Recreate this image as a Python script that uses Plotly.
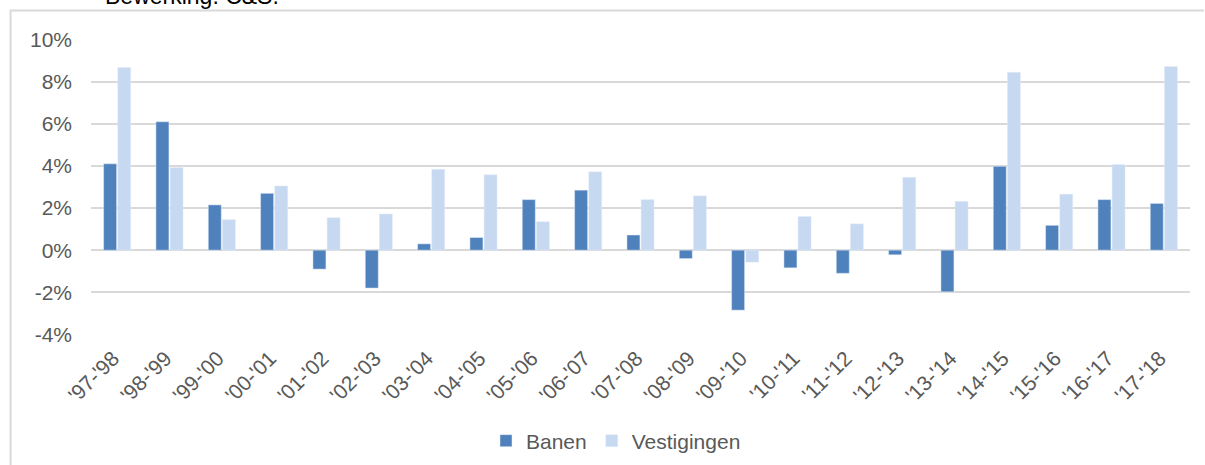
import plotly.graph_objects as go

categories = ["'97-'98", "'98-'99", "'99-'00", "'00-'01", "'01-'02", "'02-'03", "'03-'04",
              "'04-'05", "'05-'06", "'06-'07", "'07-'08", "'08-'09", "'09-'10", "'10-'11",
              "'11-'12", "'12-'13", "'13-'14", "'14-'15", "'15-'16", "'16-'17", "'17-'18"]
banen = [4.1, 6.1, 2.15, 2.7, -0.9, -1.8, 0.3, 0.6, 2.4, 2.85, 0.72, -0.4, -2.85, -0.84,
         -1.1, -0.22, -1.98, 3.98, 1.18, 2.4, 2.22]
vestigingen = [8.68, 3.93, 1.45, 3.05, 1.54, 1.72, 3.84, 3.58, 1.35, 3.72, 2.4, 2.58, -0.57,
               1.6, 1.25, 3.46, 2.32, 8.45, 2.66, 4.07, 8.72]
y_ticks = [-4, -2, 0, 2, 4, 6, 8, 10]
y_tick_labels = ["-4%", "-2%", "0%", "2%", "4%", "6%", "8%", "10%"]

W, H = 1205, 465
L, R, T, B = 91, 15, 39, 130
pw, ph = W - L - R, H - T - B


def px_x(p):
    return (p - L) / pw


def px_y(p):
    return (H - B - p) / ph


FONT = "Liberation Sans, Arial, sans-serif"
GREY = "#595959"
GRID = "#D9D9D9"

frame_path = "M {:.4f},{:.4f} L {:.4f},{:.4f} L {:.4f},{:.4f}".format(
    px_x(10.5), px_y(470), px_x(10.5), px_y(10.5), px_x(1204), px_y(10.5))

fig = go.Figure()
fig.add_trace(go.Bar(x=categories, y=banen, name="Banen", marker_color="#4F81BD"))
fig.add_trace(go.Bar(x=categories, y=vestigingen, name="Vestigingen", marker_color="#C6D9F1"))

fig.update_layout(
    width=W, height=H,
    margin=dict(l=L, r=R, t=T, b=B, pad=0, autoexpand=False),
    paper_bgcolor="white", plot_bgcolor="white",
    barmode="group", bargap=0.46, bargroupgap=0.08,
    font=dict(family=FONT, size=20, color=GREY),
    showlegend=True,
    legend=dict(orientation="h", x=px_x(616), xanchor="center", y=px_y(441), yanchor="middle",
                font=dict(size=21, color=GREY), itemwidth=30, traceorder="normal"),
    xaxis=dict(tickangle=-45, showgrid=False, zeroline=False, showline=False, ticks="",
               automargin=False, ticklabelstandoff=6, ticklabelshift=-4,
               tickfont=dict(size=21, color=GREY)),
    yaxis=dict(range=[-4.03, 10.03], tickvals=y_ticks, ticktext=y_tick_labels,
               showgrid=True, gridcolor=GRID, gridwidth=1.5,
               zeroline=True, zerolinecolor=GRID, zerolinewidth=1.5,
               showline=False, ticks="", ticklabelstandoff=18, automargin=False,
               tickfont=dict(size=21, color=GREY)),
    shapes=[
        dict(type="path", xref="paper", yref="paper", path=frame_path,
             line=dict(color=GRID, width=2)),
    ],
    annotations=[
        dict(text="Bewerking: C&S.", xref="paper", yref="paper", x=px_x(103), y=px_y(-4.5),
             xanchor="left", yanchor="middle", showarrow=False,
             font=dict(family=FONT, size=23, color="#000000")),
    ],
)

fig.write_html("out.html", config={"displayModeBar": False},
               post_script="document.documentElement.style.overflow='hidden';"
                           "document.body.style.margin='0px';document.body.style.overflow='hidden';")
